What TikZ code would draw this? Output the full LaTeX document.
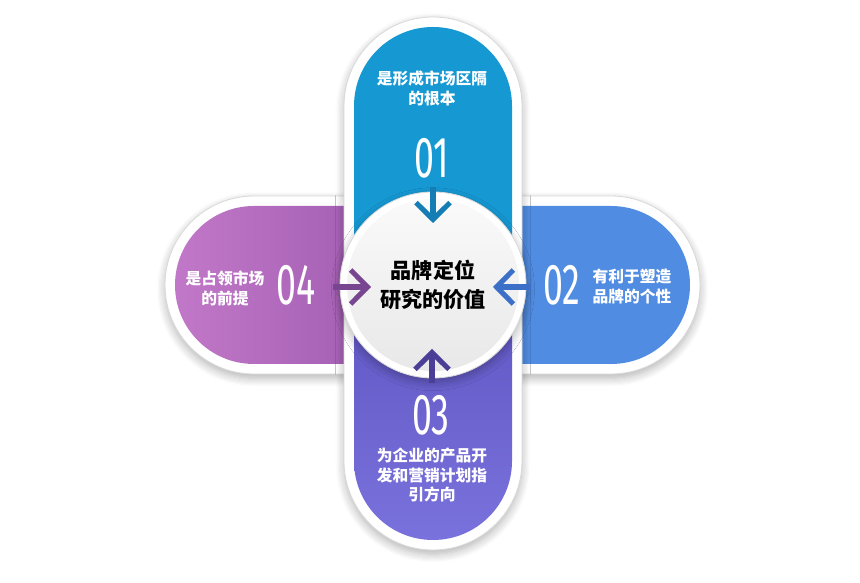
\documentclass[tikz,border=0pt]{standalone}
\usepackage{fontspec}
\usepackage{graphicx}
\newfontfamily\cjk{Noto Sans CJK SC}
\newfontfamily\numfont{Fira Sans}
\usetikzlibrary{arrows.meta,shadows.blur}
\definecolor{petalA}{RGB}{22,152,210}
\definecolor{petalB}{RGB}{80,140,226}
\definecolor{petalCtop}{RGB}{95,85,195}
\definecolor{petalCbot}{RGB}{122,114,220}
\definecolor{petalDleft}{RGB}{194,120,200}
\definecolor{petalDright}{RGB}{152,86,172}
\definecolor{arrA}{RGB}{20,125,180}
\definecolor{arrB}{RGB}{60,112,200}
\definecolor{arrC}{RGB}{75,62,150}
\definecolor{arrD}{RGB}{120,70,145}
\begin{document}
\begin{tikzpicture}[x=0.025cm,y=0.025cm,
  rim/.style={fill=white, draw=gray!30, line width=0.6pt,
    blur shadow={shadow blur steps=8, shadow xshift=0pt, shadow yshift=-3pt, shadow opacity=30, shadow blur radius=6pt}},
  lbl/.style={text=white, font=\cjk\bfseries\fontsize{11.2}{14.2}\selectfont, align=center, inner sep=0pt},
  num/.style={text=white, font=\numfont\fontsize{41}{41}\selectfont, inner sep=0pt},
  arr/.style={line width=3.6pt, -{Straight Barb[length=0.42cm, width=0.85cm]}}]
\useasboundingbox (0,0) rectangle (860,583);
% side petals
\draw[rim] (433,387) -- (611,387) arc[start angle=90, end angle=-90, radius=89] -- (433,209) -- cycle;
\fill[petalB] (433,377) -- (611,377) arc[start angle=90, end angle=-90, radius=79] -- (433,219) -- cycle;
\draw[rim] (433,387) -- (254,387) arc[start angle=90, end angle=270, radius=89] -- (433,209) -- cycle;
\shade[left color=petalDleft, right color=petalDright] (433,377) -- (254,377) arc[start angle=90, end angle=270, radius=79] -- (433,219) -- cycle;
% top and bottom petals
\draw[rim] (344,298) -- (344,477) arc[start angle=180, end angle=0, radius=89] -- (522,298) -- cycle;
\fill[petalA] (354,298) -- (354,477) arc[start angle=180, end angle=0, radius=79] -- (512,298) -- cycle;
\draw[rim] (344,298) -- (344,122) arc[start angle=180, end angle=360, radius=89] -- (522,298) -- cycle;
\shade[top color=petalCtop, bottom color=petalCbot] (354,298) -- (354,122) arc[start angle=180, end angle=360, radius=79] -- (512,298) -- cycle;
% labels
\node[lbl] (t1) at (432,495) {是形成市场区隔\\的根本};
\node[num] (n1) at (432,425) {\scalebox{0.62}[1]{01}};
\node[num] (n2) at (562,298) {\scalebox{0.62}[1]{02}};
\node[lbl] (t2) at (632,296) {有利于塑造\\品牌的个性};
\node[num] (n3) at (431,168) {\scalebox{0.62}[1]{03}};
\node[lbl] (t3) at (432,108) {为企业的产品开\\发和营销计划指\\引方向};
\node[lbl] (t4) at (225,295) {是占领市场\\的前提};
\node[num] (n4) at (296,298) {\scalebox{0.62}[1]{04}};
% centre
\node[circle, fill=white, draw=gray!30, line width=0.6pt, minimum size=4.65cm,
  blur shadow={shadow blur steps=8, shadow xshift=0pt, shadow yshift=-3pt, shadow opacity=30, shadow blur radius=6pt}] (ring) at (433,298) {};
\node[circle, top color=gray!4, bottom color=gray!18, minimum size=4.3cm, align=center,
  font=\cjk\bfseries\fontsize{15}{20.6}\selectfont] (core) at (433,298) {品牌定位\\研究的价值};
% arrows
\coordinate (a1) at (433,396);
\coordinate (h1) at (433,360);
\coordinate (a2) at (531,296);
\coordinate (h2) at (493,296);
\coordinate (a3) at (432,200);
\coordinate (h3) at (432,234);
\coordinate (a4) at (333,296);
\coordinate (h4) at (371,296);
\draw[arr, arrA] (a1) -- (h1);
\draw[arr, arrB] (a2) -- (h2);
\draw[arr, arrC] (a3) -- (h3);
\draw[arr, arrD] (a4) -- (h4);
\end{tikzpicture}
\end{document}
